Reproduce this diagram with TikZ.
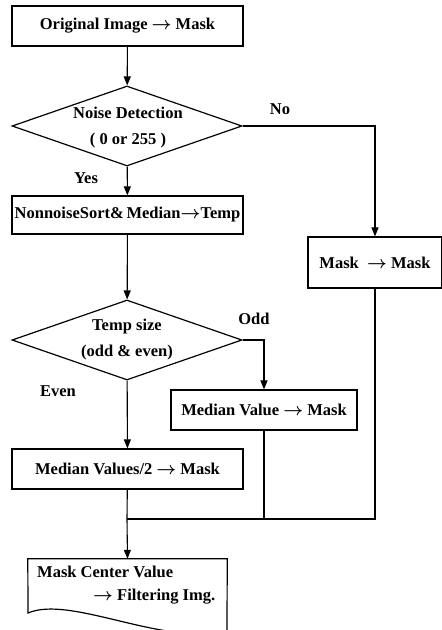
\documentclass[tikz,border=0pt]{standalone}
\usepackage{fontspec}
\setmainfont{Liberation Serif}
\usetikzlibrary{shapes.geometric,arrows.meta}
\begin{document}
\begin{tikzpicture}[x=1pt,y=-1pt]
\tikzstyle{every node}+=[inner sep=0pt,font=\bfseries\boldmath\fontsize{16.5}{26}\selectfont]
\tikzstyle{box}=[draw,line width=1.2pt,rectangle,minimum height=40pt]
\tikzstyle{dia}=[draw,line width=1.2pt,diamond,minimum width=230pt,minimum height=80pt]
\tikzstyle{arr}=[line width=1.1pt,-{Triangle[length=9pt,width=7pt]}]
\tikzstyle{ln}=[line width=1.1pt]
\useasboundingbox (0,0) rectangle (442,630);
\clip (0,0) rectangle (442,630);
\node [box,minimum width=231pt] (orig) at (127.5,26) {Original Image $\rightarrow$ Mask};
\node [dia] (noise) at (127,126) {};
\node [align=center] (noisetxt) at (128,128) {Noise Detection\\( 0 or 255 )};
\node [box,minimum width=231pt,minimum height=38pt] (sort) at (127.5,215) {NonnoiseSort\&\,Median$\rightarrow$Temp};
\node [dia] (size) at (127,340) {};
\node [align=center] (sizetxt) at (127,340) {Temp size\\(odd \& even)};
\node [box,minimum width=186pt] (odd) at (264,410) {Median Value $\rightarrow$ Mask};
\node [box,minimum width=231pt] (even) at (127.5,469) {Median Values/2 $\rightarrow$ Mask};
\node [box,minimum width=134pt,minimum height=51pt] (keep) at (375,262.5) {Mask \ $\rightarrow$ Mask};
\node [minimum width=199pt,minimum height=71pt] (doc) at (127.5,594.5) {};
\node [anchor=west] (doctxt1) at (37,572) {Mask Center Value};
\node [anchor=west] (doctxt2) at (93,597) {$\rightarrow$ Filtering Img.};
\node (no) at (280,109) {No};
\node (yes) at (86,178) {Yes};
\node (oddlbl) at (254,319) {Odd};
\node (evenlbl) at (58,391) {Even};
\coordinate (join) at (127,519);
\draw [line width=1.2pt] (doc.north west) -- (doc.north east) -- ++(0,10)
  -- (227,632) .. controls (160,645) and (70,595) .. (28,613) -- cycle;
\draw [arr] (orig) -- (noise);
\draw [arr] (noise) -- (sort);
\draw [arr] (noise.east) -| (keep.north);
\draw [arr] (sort) -- (size);
\draw [arr] (size.east) -| (odd.north);
\draw [arr] (size) -- (even);
\draw [ln] (even) -- (join);
\draw [ln] (keep.south) |- (join);
\draw [ln] (odd.south) -- (odd.south |- join);
\draw [arr] (join) -- (doc.north);
\end{tikzpicture}
\end{document}
